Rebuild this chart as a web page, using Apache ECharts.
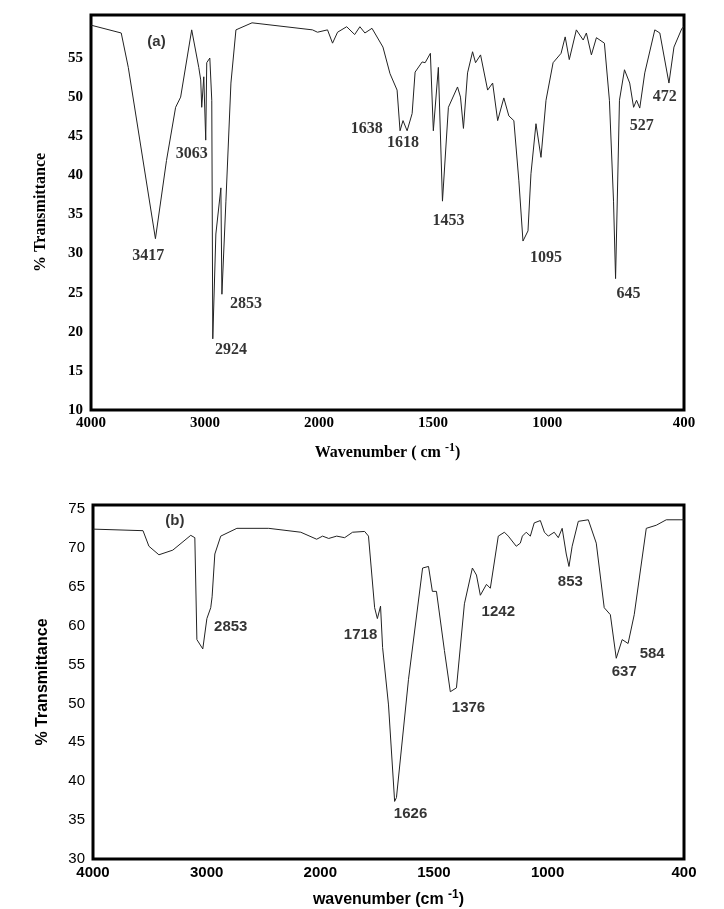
<!DOCTYPE html>
<html lang="en">
<head>
<meta charset="UTF-8">
<title>FTIR spectra</title>
<script src="https://cdn.jsdelivr.net/npm/echarts@6/dist/echarts.min.js"></script>
<style>
  html, body { margin: 0; height: 100%; background: #fff; }
  #main { width: 724px; height: 909px; }
</style>
</head>
<body>
<div id="main"></div>
<script>
// spectrum (a): wavenumber and % transmittance
var waveA = [4000,3735,3673,3435,3338,3258,3214,3117,3055,3038,3029,3011,2994,2985,2958,2941,2932,2905,2861,2852,2817,2773,2729,2588,2058,2014,1963,1941,1919,1879,1844,1821,1799,1768,1720,1689,1658,1645,1632,1614,1592,1579,1548,1535,1512,1499,1477,1459,1433,1393,1380,1367,1349,1327,1314,1292,1261,1239,1217,1190,1168,1146,1124,1106,1084,1071,1049,1027,1005,974,939,921,903,872,842,828,806,784,749,727,709,700,683,661,638,621,608,594,572,528,506,466,444,409,400];
var transA = [59.2,58.2,53.8,31.9,41.9,48.7,50.0,58.6,53.8,52.2,48.7,52.6,44.5,54.4,55.0,49.6,19.1,32.5,38.4,24.8,36.7,51.8,58.6,59.5,58.6,58.3,58.6,56.9,58.3,59.0,58.0,59.0,58.2,58.8,56.4,53.0,50.9,45.7,47.0,45.7,47.9,53.2,54.5,54.4,55.6,45.7,53.8,36.7,48.7,51.3,50.0,46.0,53.1,55.8,54.4,55.4,50.9,51.8,47.0,49.9,47.6,47.0,39.3,31.6,32.9,40.2,46.6,42.3,49.6,54.4,55.6,57.7,54.8,58.6,57.3,58.2,55.4,57.6,56.9,49.6,36.7,26.8,49.6,53.5,51.8,48.7,49.6,48.6,53.1,58.6,58.2,51.8,56.4,58.8,59.0];
var peakTextA = ['3417','3063','2924','2853','1638','1618','1453','1095','645','527','472'];
var peakWaveA = [3497,3117,2773,2640,1791,1632,1433,1005,643,585,484];
var peakTransA = [29.7,42.8,17.7,23.6,46.0,44.1,34.2,29.4,24.8,46.3,50.0];

// spectrum (b)
var waveB = [4000,3560,3508,3420,3298,3140,3104,3086,3034,2998,2964,2952,2928,2876,2734,2454,2172,2032,1990,1963,1928,1893,1858,1805,1788,1761,1749,1735,1726,1700,1673,1665,1612,1550,1524,1507,1489,1454,1428,1401,1366,1331,1313,1296,1269,1252,1217,1190,1173,1138,1120,1111,1094,1076,1059,1032,1014,997,971,953,936,918,906,892,865,821,786,751,724,698,672,646,619,566,522,478,417,400];
var transB = [72.4,72.2,70.2,69.1,69.7,71.6,71.3,58.2,57.0,60.9,62.3,63.7,69.2,71.5,72.5,72.5,72.0,71.1,71.5,71.2,71.5,71.3,72.0,72.1,71.5,62.3,60.9,62.5,57.2,49.8,37.4,37.9,53.1,67.4,67.6,64.4,64.4,56.8,51.5,52.0,62.8,67.4,66.5,63.9,65.3,64.8,71.5,72.0,71.5,70.2,70.6,71.5,72.0,71.5,73.2,73.5,72.0,71.5,72.0,71.3,72.5,69.2,67.6,70.2,73.4,73.6,70.6,62.3,61.4,55.8,58.2,57.7,61.4,72.5,72.9,73.6,73.6,73.6];
var peakTextB = ['(b)','2853','1718','1626','1376','1242','853','637','584'];
var peakWaveB = [3280,2788,1823,1603,1348,1217,900,663,540];
var peakTransB = [73.4,59.8,58.8,35.8,49.4,61.8,65.6,54.0,56.4];

// panel tag for (a), written in sans like (b)
var tagA = { text: '(a)', wave: 3426, trans: 57.1 };

// x tick labels (axis is compressed by 2 above 2000 cm-1)
var tickWaves = [4000,3000,2000,1500,1000,400];

function toPos(wn) {
  return wn >= 2000 ? (4000 - wn) / 2 : 1000 + (2000 - wn);
}
function toWave(u) {
  return u <= 1000 ? 4000 - 2 * u : 3000 - u;
}
function pairs(xs, ys) {
  return xs.map(function (x, i) { return [toPos(x), ys[i]]; });
}
function peaks(txt, xs, ys) {
  return txt.map(function (t, i) { return { value: [toPos(xs[i]), ys[i]], name: t }; });
}

var serif = 'Liberation Serif';
var sans = 'Liberation Sans';

function xAxisFor(idx, font, pre) {
  return {
    gridIndex: idx, type: 'value', min: 0, max: 2600, interval: 500,
    axisLine: { show: false }, axisTick: { show: false }, splitLine: { show: false },
    axisLabel: {
      fontFamily: font, fontWeight: 'bold', fontSize: 15, color: '#000', margin: 6,
      showMaxLabel: true,
      formatter: function (v) {
        var w = toWave(v);
        return tickWaves.indexOf(w) >= 0 ? String(w) : '';
      }
    },
    name: '{n|' + pre + '}{s|-1}{n|)}', nameLocation: 'middle', nameGap: idx === 0 ? 32 : 30,
    nameTextStyle: {
      rich: {
        n: { fontFamily: font, fontWeight: 'bold', fontSize: 16, color: '#000' },
        s: { fontFamily: font, fontWeight: 'bold', fontSize: 12, color: '#000', verticalAlign: 'bottom', padding: [0, 0, 10, 0] }
      }
    }
  };
}

function yAxisFor(idx, font, min, max, top) {
  return {
    gridIndex: idx, type: 'value', min: min, max: max, interval: 5,
    axisLine: { show: false }, axisTick: { show: false }, splitLine: { show: false },
    axisLabel: {
      fontFamily: font, fontWeight: idx === 0 ? 'bold' : 'normal', fontSize: 15, color: '#000', margin: 8,
      formatter: function (v) { return v > top ? '' : String(v); }
    },
    name: '% Transmittance', nameLocation: 'middle', nameGap: 42,
    nameTextStyle: { fontFamily: font, fontWeight: 'bold', fontSize: 16, color: '#000' }
  };
}

function labelSeries(idx, font, size, data) {
  return {
    type: 'scatter', xAxisIndex: idx, yAxisIndex: idx, symbolSize: 0, data: data, silent: true,
    label: {
      show: true, position: 'inside', formatter: '{b}',
      fontFamily: font, fontWeight: 'bold', fontSize: size, color: '#000'
    }
  };
}

var chart = echarts.init(document.getElementById('main'));
chart.setOption({
  animation: false,
  grid: [
    { left: 91, right: 40, top: 15, height: 395, show: true, borderColor: '#000', borderWidth: 3 },
    { left: 93, right: 40, top: 505, height: 361, show: true, borderColor: '#000', borderWidth: 3 }
  ],
  xAxis: [xAxisFor(0, serif, 'Wavenumber ( cm '), xAxisFor(1, sans, 'wavenumber (cm ')],
  yAxis: [yAxisFor(0, serif, 10, 60.5, 55), yAxisFor(1, sans, 30, 75.5, 75)],
  series: [
    { type: 'line', xAxisIndex: 0, yAxisIndex: 0, data: pairs(waveA, transA), symbol: 'none',
      lineStyle: { color: '#222', width: 1 } },
    { type: 'line', xAxisIndex: 1, yAxisIndex: 1, data: pairs(waveB, transB), symbol: 'none',
      lineStyle: { color: '#222', width: 1 } },
    labelSeries(0, serif, 16, peaks(peakTextA, peakWaveA, peakTransA)),
    labelSeries(0, sans, 15, peaks([tagA.text], [tagA.wave], [tagA.trans])),
    labelSeries(1, sans, 15, peaks(peakTextB, peakWaveB, peakTransB))
  ]
});
</script>
</body>
</html>
